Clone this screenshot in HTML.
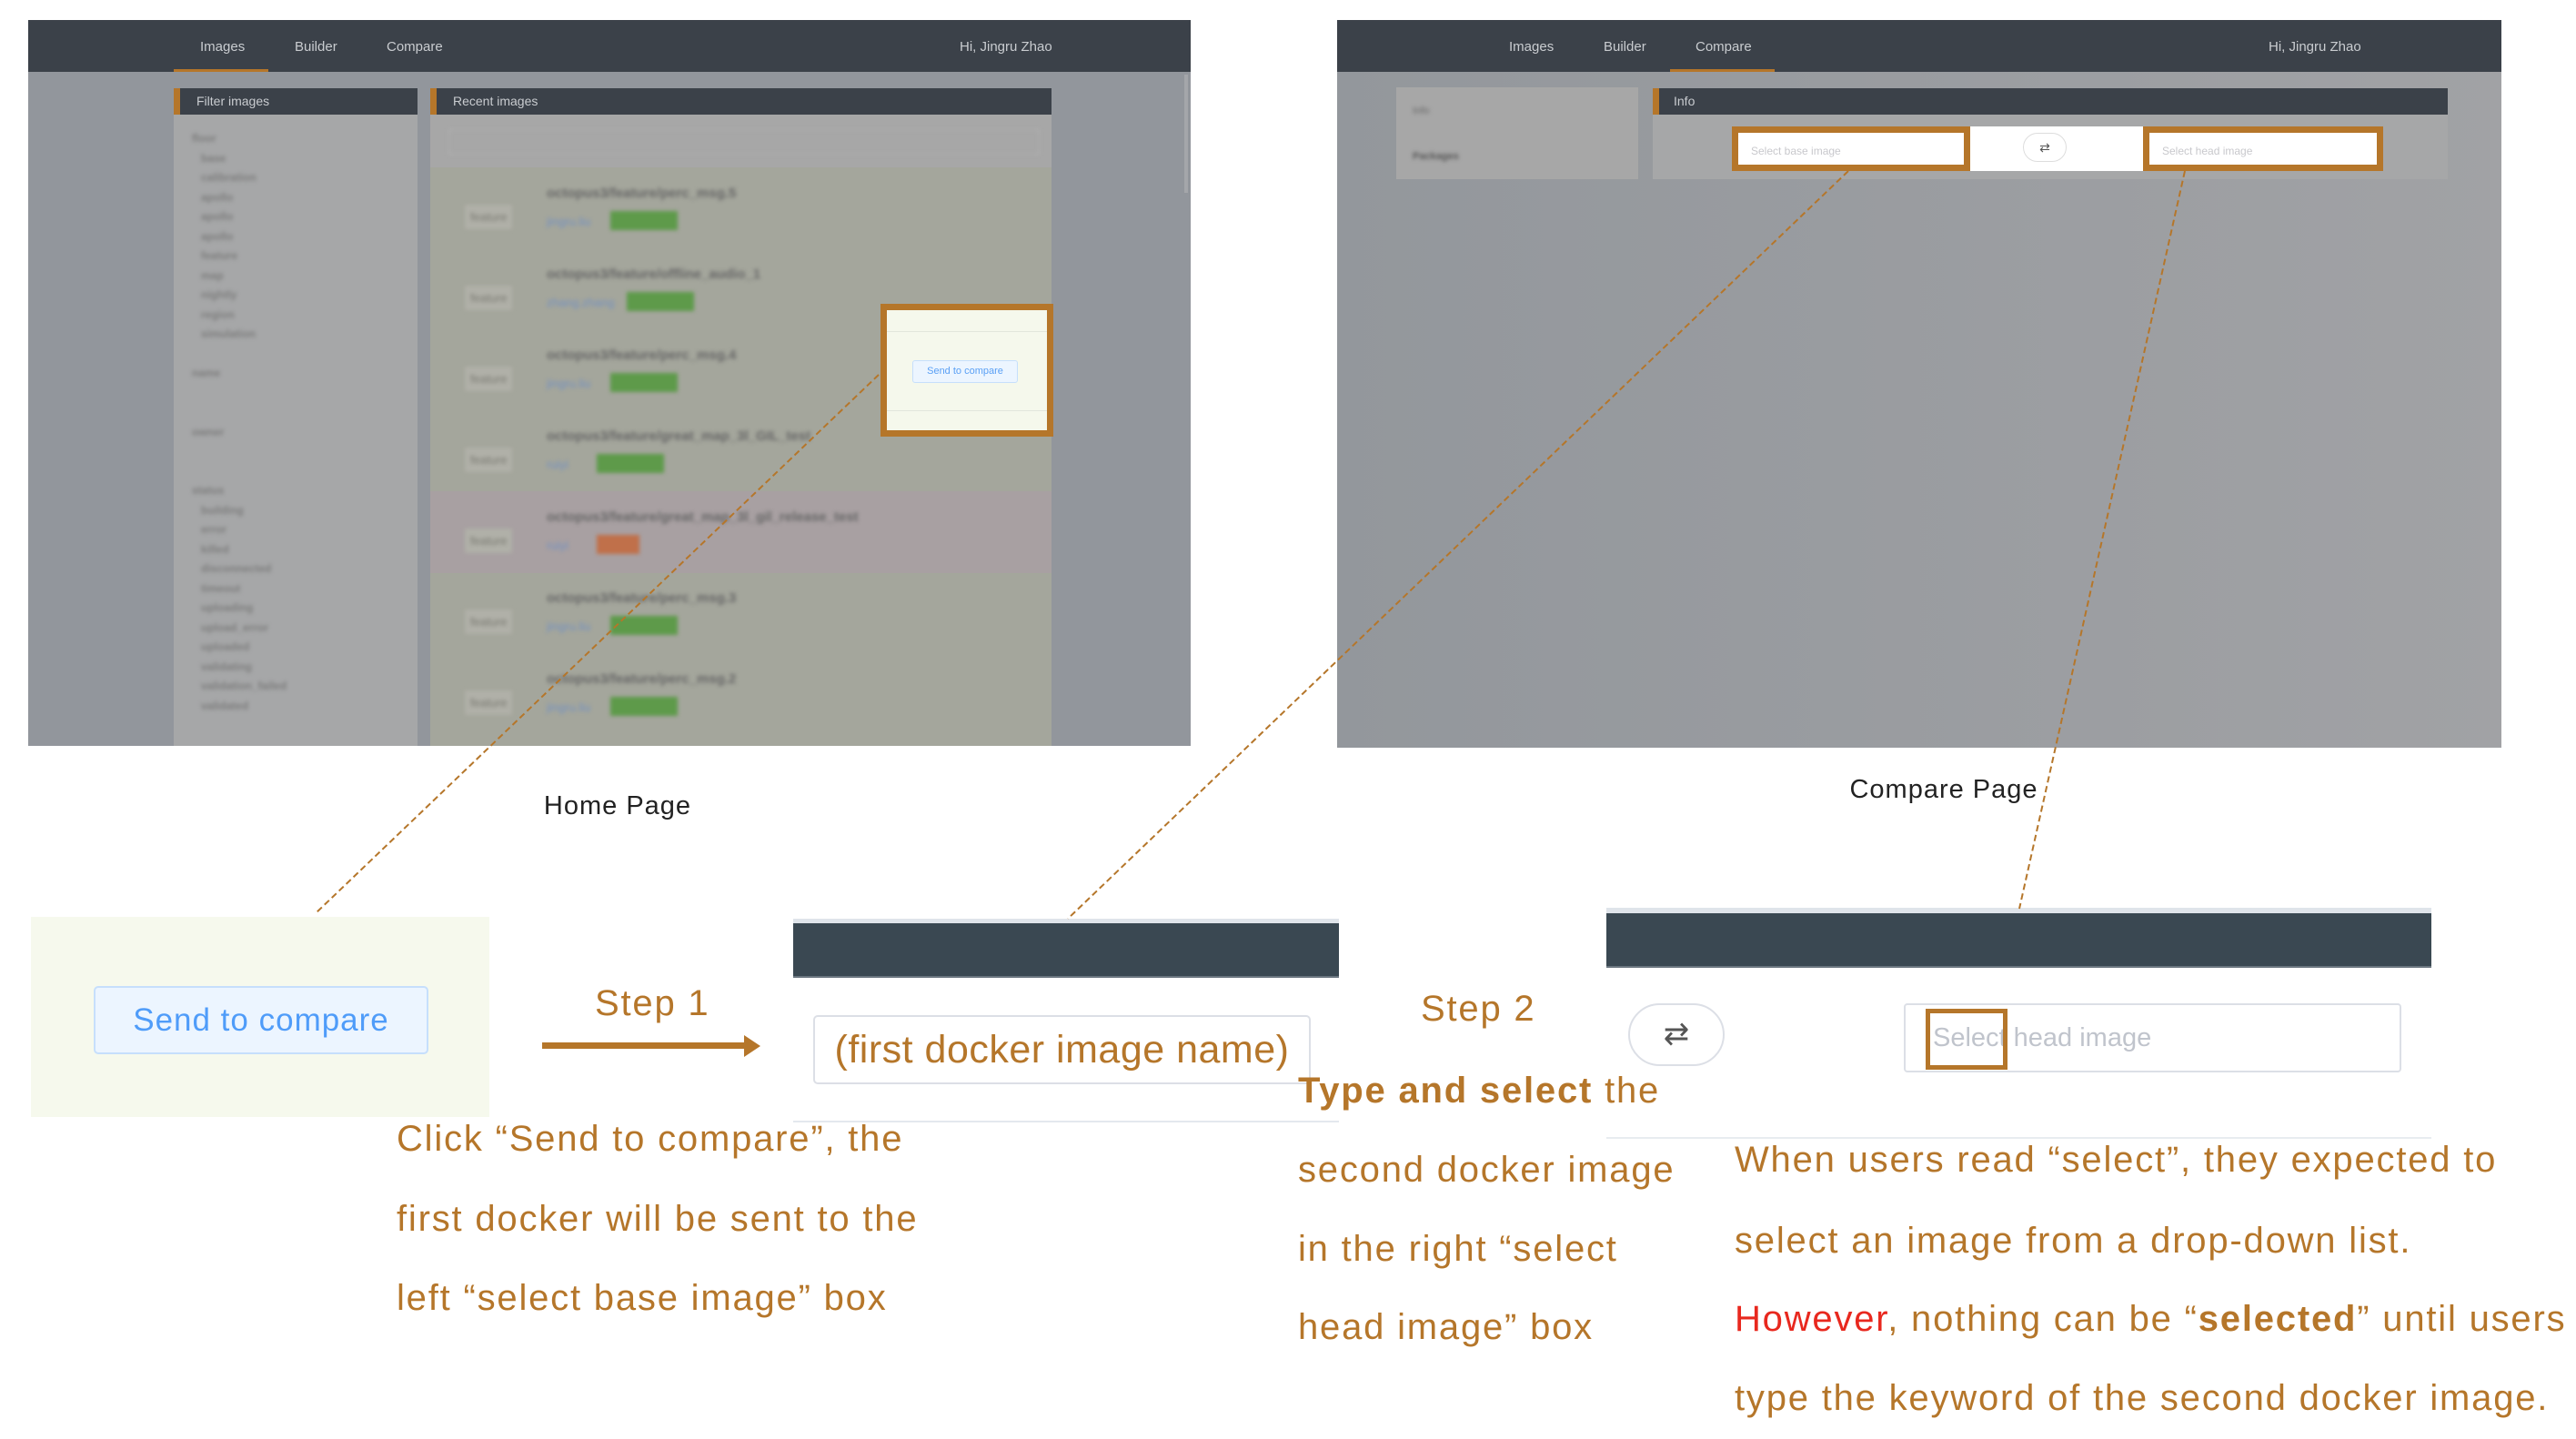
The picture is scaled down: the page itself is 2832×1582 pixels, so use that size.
<!DOCTYPE html>
<html><head><meta charset="utf-8"><style>
*{margin:0;padding:0;box-sizing:border-box}
body{width:2832px;height:1582px;background:#fff;position:relative;overflow:hidden;font-family:"Liberation Sans",sans-serif}
.a{position:absolute}
.nav{background:#3b4149;color:#c9ccd0;font-size:15px}
.blur{filter:blur(2px)}
.or{color:#b5762a}
.t{position:absolute;font-size:40px;color:#b5762a;white-space:nowrap;line-height:1;letter-spacing:1.8px}
</style></head><body>

<!-- HOME screenshot -->
<div class="a" style="left:31px;top:22px;width:1278px;height:798px;background:#92969c;overflow:hidden">
  <div class="a nav" style="left:0;top:0;width:1278px;height:57px">
    <span class="a" style="left:189px;top:21px">Images</span>
    <span class="a" style="left:293px;top:21px">Builder</span>
    <span class="a" style="left:394px;top:21px">Compare</span>
    <span class="a" style="left:1024px;top:21px">Hi, Jingru Zhao</span>
    <div class="a" style="left:160px;top:54px;width:104px;height:3px;background:#b5762a"></div>
  </div>
  <div class="a" style="left:160px;top:75px;width:268px;height:730px;background:#a6a7a8"></div>
  <div class="a nav" style="left:160px;top:75px;width:268px;height:29px;border-left:7px solid #b5762a"><span class="a" style="left:18px;top:6px;font-size:14px">Filter images</span></div>
  <div class="a blur" style="left:180px;top:120px;color:#7c7c7c;font-size:12px;line-height:21.5px;font-weight:bold">
    floor<br>&nbsp;&nbsp;&nbsp;base<br>&nbsp;&nbsp;&nbsp;calibration<br>&nbsp;&nbsp;&nbsp;apollo<br>&nbsp;&nbsp;&nbsp;apollo<br>&nbsp;&nbsp;&nbsp;apollo<br>&nbsp;&nbsp;&nbsp;feature<br>&nbsp;&nbsp;&nbsp;map<br>&nbsp;&nbsp;&nbsp;nightly<br>&nbsp;&nbsp;&nbsp;region<br>&nbsp;&nbsp;&nbsp;simulation<br><br>name<br><br><br>owner<br><br><br>status<br>&nbsp;&nbsp;&nbsp;building<br>&nbsp;&nbsp;&nbsp;error<br>&nbsp;&nbsp;&nbsp;killed<br>&nbsp;&nbsp;&nbsp;disconnected<br>&nbsp;&nbsp;&nbsp;timeout<br>&nbsp;&nbsp;&nbsp;uploading<br>&nbsp;&nbsp;&nbsp;upload_error<br>&nbsp;&nbsp;&nbsp;uploaded<br>&nbsp;&nbsp;&nbsp;validating<br>&nbsp;&nbsp;&nbsp;validation_failed<br>&nbsp;&nbsp;&nbsp;validated
  </div>
  <div class="a" style="left:442px;top:75px;width:683px;height:730px;background:#a4a69c"></div>
  <div class="a" style="left:442px;top:104px;width:683px;height:58px;background:#a7a7a7"></div>
  <div class="a" style="left:442px;top:518px;width:683px;height:90px;background:#a8a0a2"></div>
  <div class="a nav" style="left:442px;top:75px;width:683px;height:29px;border-left:7px solid #b5762a"><span class="a" style="left:18px;top:6px;font-size:14px">Recent images</span></div>
  <div class="a blur" style="left:462px;top:120px;width:650px;height:28px;border:1px solid #b4b4b4"></div>
  <div class="a blur" style="left:440px;top:170px;color:#7a7a72;font-size:13px">
    <div style="position:absolute;top:0;width:400px"><b style="position:absolute;left:130px;top:12px;font-size:15px;color:#666">octopus3/feature/perc_msg.5</b><span style="position:absolute;left:40px;top:33px;background:#b0b0a8;padding:6px">feature</span><span style="position:absolute;left:130px;top:44px;color:#7390c0">jingru.liu</span><span style="position:absolute;left:200px;top:40px;background:#5e9a4a;color:#5e9a4a;padding:3px 10px">uploaded</span></div>
    <div style="position:absolute;top:89px;width:400px"><b style="position:absolute;left:130px;top:12px;font-size:15px;color:#666">octopus3/feature/offline_audio_1</b><span style="position:absolute;left:40px;top:33px;background:#b0b0a8;padding:6px">feature</span><span style="position:absolute;left:130px;top:44px;color:#7390c0">zhang.zhang</span><span style="position:absolute;left:218px;top:40px;background:#5e9a4a;color:#5e9a4a;padding:3px 10px">uploaded</span></div>
    <div style="position:absolute;top:178px;width:400px"><b style="position:absolute;left:130px;top:12px;font-size:15px;color:#666">octopus3/feature/perc_msg.4</b><span style="position:absolute;left:40px;top:33px;background:#b0b0a8;padding:6px">feature</span><span style="position:absolute;left:130px;top:44px;color:#7390c0">jingru.liu</span><span style="position:absolute;left:200px;top:40px;background:#5e9a4a;color:#5e9a4a;padding:3px 10px">uploaded</span></div>
    <div style="position:absolute;top:267px;width:400px"><b style="position:absolute;left:130px;top:12px;font-size:15px;color:#666">octopus3/feature/great_map_3l_GIL_test</b><span style="position:absolute;left:40px;top:33px;background:#b0b0a8;padding:6px">feature</span><span style="position:absolute;left:130px;top:44px;color:#7390c0">ruiyi</span><span style="position:absolute;left:185px;top:40px;background:#5e9a4a;color:#5e9a4a;padding:3px 10px">uploaded</span></div>
    <div style="position:absolute;top:356px;width:400px"><b style="position:absolute;left:130px;top:12px;font-size:15px;color:#666">octopus3/feature/great_map_3l_gil_release_test</b><span style="position:absolute;left:40px;top:33px;background:#b0b0a8;padding:6px">feature</span><span style="position:absolute;left:130px;top:44px;color:#7390c0">ruiyi</span><span style="position:absolute;left:185px;top:40px;background:#c0704a;color:#c0704a;padding:3px 10px">error</span></div>
    <div style="position:absolute;top:445px;width:400px"><b style="position:absolute;left:130px;top:12px;font-size:15px;color:#666">octopus3/feature/perc_msg.3</b><span style="position:absolute;left:40px;top:33px;background:#b0b0a8;padding:6px">feature</span><span style="position:absolute;left:130px;top:44px;color:#7390c0">jingru.liu</span><span style="position:absolute;left:200px;top:40px;background:#5e9a4a;color:#5e9a4a;padding:3px 10px">uploaded</span></div>
    <div style="position:absolute;top:534px;width:400px"><b style="position:absolute;left:130px;top:12px;font-size:15px;color:#666">octopus3/feature/perc_msg.2</b><span style="position:absolute;left:40px;top:33px;background:#b0b0a8;padding:6px">feature</span><span style="position:absolute;left:130px;top:44px;color:#7390c0">jingru.liu</span><span style="position:absolute;left:200px;top:40px;background:#5e9a4a;color:#5e9a4a;padding:3px 10px">uploaded</span></div>
  </div>
  <div class="a" style="left:1271px;top:60px;width:4px;height:130px;background:#a4a6aa"></div>
</div>
<!-- highlight box home -->
<div class="a" style="left:968px;top:334px;width:190px;height:146px;background:#f5f8ec;border:7px solid #b5762a">
  <div class="a" style="left:0;top:23px;width:176px;height:1px;background:#e2e6dc"></div>
  <div class="a" style="left:0;top:110px;width:176px;height:1px;background:#e2e6dc"></div>
  <div class="a" style="left:28px;top:55px;width:116px;height:25px;background:#ecf5ff;border:1px solid #c6dffc;border-radius:3px;color:#5aa0f5;font-size:11px;text-align:center;line-height:23px">Send to compare</div>
</div>
<div class="a" style="left:679px;top:870px;transform:translateX(-50%);font-size:29px;color:#222;letter-spacing:1px">Home Page</div>

<!-- COMPARE screenshot -->
<div class="a" style="left:1470px;top:22px;width:1280px;height:800px;background:linear-gradient(90deg,#93979c,#a1a2a5);overflow:hidden">
  <div class="a nav" style="left:0;top:0;width:1280px;height:57px">
    <span class="a" style="left:189px;top:21px">Images</span>
    <span class="a" style="left:293px;top:21px">Builder</span>
    <span class="a" style="left:394px;top:21px">Compare</span>
    <span class="a" style="left:1024px;top:21px">Hi, Jingru Zhao</span>
    <div class="a" style="left:366px;top:54px;width:115px;height:3px;background:#b5762a"></div>
  </div>
  <div class="a" style="left:65px;top:74px;width:266px;height:101px;background:#a7a7a7">
    <span class="a blur" style="left:18px;top:20px;font-size:11px;color:#666">Info</span>
    <span class="a blur" style="left:18px;top:70px;font-size:11px;color:#555;font-weight:bold">Packages</span>
  </div>
  <div class="a" style="left:347px;top:75px;width:874px;height:100px;background:#a6a7a8"></div>
  <div class="a nav" style="left:347px;top:75px;width:874px;height:29px;border-left:7px solid #b5762a"><span class="a" style="left:16px;top:6px;font-size:14px">Info</span></div>
</div>
<div class="a" style="left:1904px;top:139px;width:716px;height:49px;background:#fff"></div>
<div class="a" style="left:1904px;top:139px;width:262px;height:49px;border:7px solid #b5762a;background:#fff"><span class="a" style="left:14px;top:13px;font-size:12px;color:#c8c8cc">Select base image</span></div>
<div class="a" style="left:2356px;top:139px;width:264px;height:49px;border:7px solid #b5762a;background:#fff"><span class="a" style="left:14px;top:13px;font-size:12px;color:#c8c8cc">Select head image</span></div>
<div class="a" style="left:2224px;top:146px;width:48px;height:32px;border:1px solid #ddd;border-radius:16px;background:#fff;text-align:center;font-size:14px;line-height:30px;color:#555">⇄</div>
<div class="a" style="left:2137px;top:852px;transform:translateX(-50%);font-size:29px;color:#222;letter-spacing:1px">Compare Page</div>

<!-- bottom Step 1 -->
<div class="a" style="left:34px;top:1008px;width:504px;height:220px;background:#f6f9ed"></div>
<div class="a" style="left:103px;top:1084px;width:368px;height:75px;background:#ecf5ff;border:2px solid #c6dffc;border-radius:5px;color:#4f9cf9;font-size:35px;text-align:center;line-height:71px;letter-spacing:1px">Send to compare</div>
<div class="t" style="left:654px;top:1083px">Step 1</div>
<div class="a" style="left:596px;top:1146px;width:226px;height:7px;background:#b5762a"></div>
<div class="a" style="left:818px;top:1138px;width:0;height:0;border-left:18px solid #b5762a;border-top:12px solid transparent;border-bottom:12px solid transparent"></div>
<div class="a" style="left:872px;top:1010px;width:600px;height:6px;background:#dfe4ea"></div>
<div class="a" style="left:872px;top:1015px;width:600px;height:60px;background:#3a4852;border-bottom:2px solid #6b7680"></div>
<div class="a" style="left:894px;top:1116px;width:547px;height:76px;border:2px solid #dcdfe6;border-radius:5px;color:#b5762a;font-size:43px;text-align:center;line-height:72px;letter-spacing:0.5px">(first docker image name)</div>
<div class="a" style="left:872px;top:1232px;width:600px;height:2px;background:#e4e8ee"></div>

<!-- Step 2 -->
<div class="t" style="left:1562px;top:1089px">Step 2</div>
<div class="a" style="left:1766px;top:998px;width:907px;height:8px;background:#dfe4ea"></div>
<div class="a" style="left:1766px;top:1004px;width:907px;height:60px;background:#3a4852;border-bottom:2px solid #6b7680"></div>
<div class="a" style="left:1790px;top:1103px;width:106px;height:69px;border:2px solid #dcdfe6;border-radius:35px;background:#fff;text-align:center;line-height:65px;font-size:34px;color:#555">⇄</div>
<div class="a" style="left:2093px;top:1103px;width:547px;height:76px;border:2px solid #dcdfe6;border-radius:4px;background:#fff"><span class="a" style="left:30px;top:20px;font-size:29px;color:#c0c4cc">Select head image</span></div>
<div class="a" style="left:2117px;top:1109px;width:90px;height:67px;border:5px solid #b5762a"></div>
<div class="a" style="left:1766px;top:1250px;width:907px;height:2px;background:#e8ecf0"></div>

<!-- texts -->
<div class="t" style="left:436px;top:1232px">Click “Send to compare”, the</div>
<div class="t" style="left:436px;top:1320px">first docker will be sent to the</div>
<div class="t" style="left:436px;top:1407px">left “select base image” box</div>

<div class="t" style="left:1427px;top:1179px"><b>Type and select</b> the</div>
<div class="t" style="left:1427px;top:1266px">second docker image</div>
<div class="t" style="left:1427px;top:1353px">in the right “select</div>
<div class="t" style="left:1427px;top:1439px">head image” box</div>

<div class="t" style="left:1907px;top:1255px">When users read “select”, they expected to</div>
<div class="t" style="left:1907px;top:1344px">select an image from a drop-down list.</div>
<div class="t" style="left:1907px;top:1430px"><span style="color:#e8281e">However</span>, nothing can be “<b>selected</b>” until users</div>
<div class="t" style="left:1907px;top:1517px">type the keyword of the second docker image.</div>

<svg class="a" style="left:0;top:0" width="2832" height="1582">
<g stroke="#b5762a" stroke-width="2" stroke-dasharray="7 4" fill="none">
<line x1="966" y1="412" x2="347" y2="1004"/>
<line x1="2032" y1="188" x2="1174" y2="1010"/>
<line x1="2402" y1="188" x2="2220" y2="999"/>
</g></svg>
</body></html>
